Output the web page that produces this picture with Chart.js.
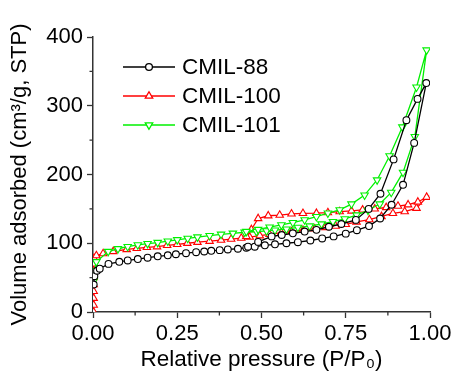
<!DOCTYPE html>
<html>
<head>
<meta charset="utf-8">
<script src="https://cdn.jsdelivr.net/npm/chart.js@4"></script>
<style>
  html, body { margin: 0; padding: 0; background: #fff; }
  #wrap { width: 459px; height: 373px; }
</style>
</head>
<body>
<div id="wrap"><canvas id="iso" width="459" height="373"></canvas></div>
<script>

// tick labels
const pressureTicks = [0, 0.25, 0.5, 0.75, 1.0];
const volumeTicks = [0, 100, 200, 300, 400];

const seriesNames = ['CMIL-88', 'CMIL-100', 'CMIL-101'];

// CMIL-88 : adsorption then desorption branch  [P/P0, volume]
const cmil88Ads = [
    [0.002, 40], [0.004, 52], [0.012, 60], [0.02, 63], [0.046, 70], [0.078, 73], [0.103, 75],
    [0.133, 77], [0.162, 79], [0.192, 81], [0.222, 82.5], [0.246, 84], [0.276, 85.5],
    [0.306, 87], [0.33, 88], [0.351, 89], [0.376, 90], [0.40, 91], [0.43, 92], [0.455, 93.5],
    [0.48, 95], [0.51, 97], [0.54, 98.5], [0.574, 100], [0.608, 101.5], [0.645, 104],
    [0.68, 107], [0.714, 110], [0.75, 114], [0.783, 119], [0.819, 125], [0.852, 136],
    [0.886, 156], [0.92, 185], [0.953, 246], [0.989, 333]
];
const cmil88Des = [
    [0.963, 310], [0.93, 279], [0.892, 222], [0.853, 172], [0.818, 150], [0.78, 134],
    [0.737, 128], [0.70, 124], [0.663, 119.5], [0.628, 117], [0.593, 114.5], [0.56, 112],
    [0.53, 110], [0.49, 102], [0.46, 95]
];

// CMIL-100
const cmil100Ads = [
    [0.002, 0], [0.002, 10], [0.002, 20], [0.002, 30], [0.002, 40], [0.002, 50],
    [0.002, 60], [0.002, 70], [0.003, 78], [0.01, 82], [0.03, 85], [0.06, 88], [0.1, 91],
    [0.13, 92.5], [0.16, 94], [0.19, 95], [0.22, 97], [0.25, 98.5], [0.28, 100],
    [0.31, 101.5], [0.346, 103], [0.38, 104.5], [0.41, 106], [0.44, 107.5], [0.465, 109],
    [0.495, 111], [0.524, 113], [0.559, 115.5], [0.589, 117], [0.623, 119], [0.658, 121],
    [0.69, 123], [0.72, 125], [0.75, 127.5], [0.782, 131], [0.82, 134.5], [0.856, 139],
    [0.89, 143.5], [0.925, 146], [0.96, 151], [0.99, 167]
];
const cmil100Des = [
    [0.964, 160], [0.935, 156], [0.905, 154], [0.87, 152], [0.836, 150], [0.80, 148.5],
    [0.767, 147], [0.732, 146], [0.697, 144.6], [0.663, 143.7], [0.623, 143.5],
    [0.589, 142.7], [0.554, 141], [0.52, 140], [0.49, 136], [0.47, 120], [0.455, 110]
];

// CMIL-101
const cmil101Ads = [
    [0.002, 45], [0.004, 60], [0.01, 73], [0.045, 88], [0.074, 92], [0.103, 95],
    [0.133, 97.5], [0.162, 99.5], [0.192, 101], [0.222, 103], [0.25, 105], [0.281, 107],
    [0.31, 109], [0.346, 111], [0.38, 113], [0.415, 114.5], [0.45, 116], [0.485, 117],
    [0.515, 118], [0.54, 119], [0.574, 120.5], [0.608, 123], [0.643, 125], [0.678, 128],
    [0.712, 131.5], [0.747, 135.5], [0.782, 141], [0.816, 148], [0.851, 157],
    [0.885, 174], [0.92, 203], [0.955, 255], [0.99, 381]
];
const cmil101Des = [
    [0.96, 327], [0.918, 269], [0.88, 227], [0.843, 192], [0.806, 170], [0.767, 157],
    [0.732, 148.6], [0.697, 143.7], [0.663, 138.7], [0.628, 134], [0.593, 130],
    [0.559, 126.7], [0.524, 123.4], [0.49, 120], [0.455, 117]
];

const toXY = arr => arr.map(p => ({ x: p[0], y: p[1] }));

const FONT = "'Liberation Sans', Arial, sans-serif";

// legend drawn inside the plot (line + marker + text)
const isoLegend = {
    id: 'isoLegend',
    afterDraw(chart) {
        const ctx = chart.ctx;
        const area = chart.chartArea;
        const x0 = area.left + 30, x1 = area.left + 82;
        ctx.save();
        chart.data.datasets.forEach((ds, i) => {
            const y = area.top + 30 + i * 29;
            ctx.strokeStyle = ds.borderColor;
            ctx.lineWidth = ds.borderWidth;
            ctx.beginPath();
            ctx.moveTo(x0, y);
            ctx.lineTo(x1, y);
            ctx.stroke();
            ctx.fillStyle = '#fff';
            Chart.helpers.drawPoint(ctx, {
                pointStyle: ds.pointStyle,
                radius: ds.pointRadius,
                rotation: ds.pointRotation || 0,
                borderWidth: ds.pointBorderWidth
            }, (x0 + x1) / 2, y);
            ctx.fillStyle = '#000';
            ctx.font = '22.5px ' + FONT;
            ctx.textAlign = 'left';
            ctx.textBaseline = 'middle';
            ctx.fillText(ds.label, x1 + 7, y + 1);
        });
        ctx.restore();
    }
};

// small minor ticks between the labelled ones
const minorTicks = {
    id: 'minorTicks',
    afterDraw(chart) {
        const ctx = chart.ctx;
        const xs = chart.scales.x, ys = chart.scales.y;
        ctx.save();
        ctx.strokeStyle = '#333';
        ctx.lineWidth = 1.3;
        ctx.beginPath();
        for (let i = 0; i < pressureTicks.length - 1; i++) {
            const px = xs.getPixelForValue((pressureTicks[i] + pressureTicks[i + 1]) / 2);
            ctx.moveTo(px, xs.top);
            ctx.lineTo(px, xs.top + 3.5);
        }
        for (let i = 0; i < volumeTicks.length - 1; i++) {
            const py = ys.getPixelForValue((volumeTicks[i] + volumeTicks[i + 1]) / 2);
            ctx.moveTo(ys.right, py);
            ctx.lineTo(ys.right - 3.5, py);
        }
        ctx.stroke();
        ctx.restore();
    }
};

const makeSet = (label, ads, des, color, style, rotation, order) => ({
    label: label,
    data: toXY(ads.concat(des)),
    showLine: true,
    borderColor: color,
    borderWidth: 1.3,
    pointStyle: style,
    pointRotation: rotation,
    pointRadius: style === 'circle' ? 3.4 : 4.3,
    pointBorderWidth: 1.1,
    pointBorderColor: color,
    pointBackgroundColor: '#fff',
    order: order
});

const ctx = document.getElementById('iso').getContext('2d');
const isoChart = new Chart(ctx, {
    type: 'scatter',
    data: {
        datasets: [
            makeSet(seriesNames[0], cmil88Ads, cmil88Des, '#000000', 'circle', 0, 1),
            makeSet(seriesNames[1], cmil100Ads, cmil100Des, '#ff0000', 'triangle', 0, 3),
            makeSet(seriesNames[2], cmil101Ads, cmil101Des, '#00f000', 'triangle', 180, 2)
        ]
    },
    options: {
        responsive: false,
        animation: { duration: 0 },
        layout: { padding: { top: 37, right: 29, left: 0, bottom: 0 } },
        plugins: {
            legend: { display: false },
            tooltip: { enabled: false }
        },
        scales: {
            x: {
                type: 'linear',
                min: 0,
                max: 1.0,
                afterBuildTicks: s => { s.ticks = pressureTicks.map(v => ({ value: v })); },
                afterFit: s => { s.height = 61; },
                border: { display: true, color: '#333', width: 1.5 },
                grid: { drawOnChartArea: false, tickLength: 6, tickColor: '#333', tickWidth: 1.3 },
                ticks: {
                    color: '#000',
                    padding: 3,
                    font: { family: FONT, size: 22 },
                    callback: v => v.toFixed(2)
                },
                title: {
                    display: true,
                    text: 'Relative pressure (P/P\u2080)',
                    color: '#000',
                    font: { family: FONT, size: 22.5 },
                    padding: { top: 0, bottom: 0 }
                }
            },
            y: {
                type: 'linear',
                min: 0,
                max: 400,
                afterBuildTicks: s => { s.ticks = volumeTicks.map(v => ({ value: v })); },
                afterFit: s => { s.width = 93; },
                border: { display: true, color: '#333', width: 1.5 },
                grid: { drawOnChartArea: false, tickLength: 6, tickColor: '#333', tickWidth: 1.3 },
                ticks: {
                    color: '#000',
                    padding: 4,
                    font: { family: FONT, size: 22 }
                },
                title: {
                    display: true,
                    text: 'Volume adsorbed (cm\u00b3/g, STP)',
                    color: '#000',
                    font: { family: FONT, size: 22 },
                    padding: { top: 7, bottom: 0 }
                }
            }
        }
    },
    plugins: [isoLegend, minorTicks]
});

</script>
</body>
</html>
